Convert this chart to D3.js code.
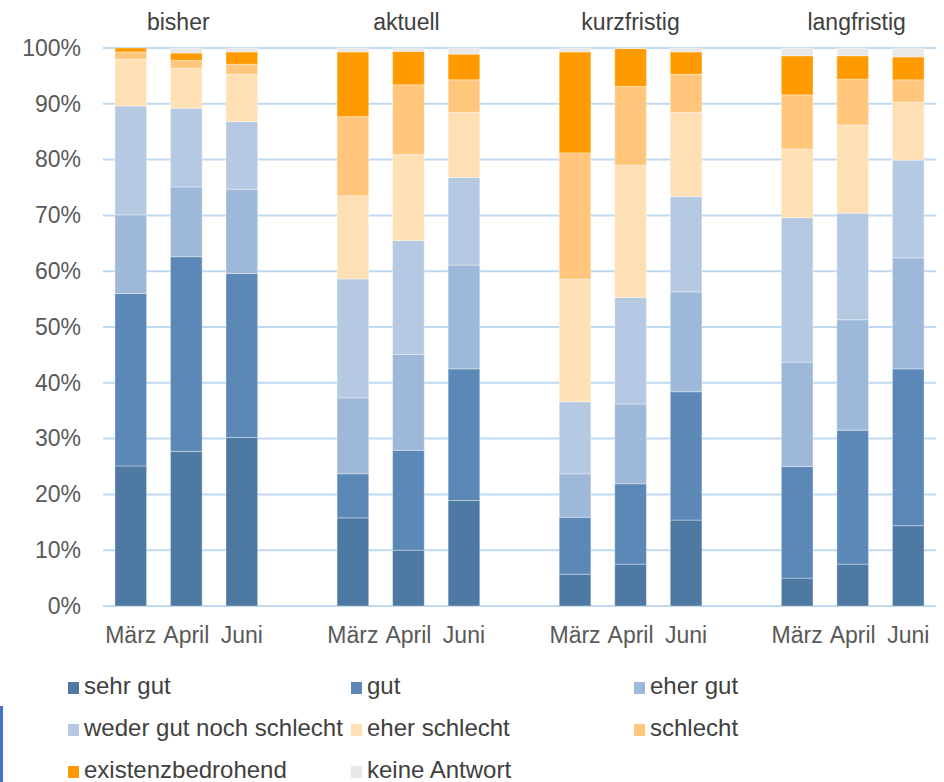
<!DOCTYPE html>
<html lang="de">
<head>
<meta charset="utf-8">
<script src="https://cdn.jsdelivr.net/npm/d3@7"></script>
<style>
  html, body { margin: 0; padding: 0; background: #fff; }
  svg { display: block; font-family: "Liberation Sans", Arial, sans-serif; }
</style>
</head>
<body>
<svg id="chart" width="944" height="782"></svg>
<script>
// Zeiträume (Gruppen) und Befragungsmonate
const periods = ["bisher", "aktuell", "kurzfristig", "langfristig"];
const months = ["März", "April", "Juni"];

// Antwortkategorien in Stapelreihenfolge (unten nach oben)
const seriesNames = ["sehr gut", "gut", "eher gut", "weder gut noch schlecht",
  "eher schlecht", "schlecht", "existenzbedrohend", "keine Antwort"];
const seriesColors = ["#4E79A2", "#5B88B6", "#9EB8D9", "#B6C9E2",
  "#FFE0B5", "#FFC67C", "#FF9A00", "#E8E8E8"];

// Anteile in % je Balken: bisher März/April/Juni, aktuell ..., kurzfristig ..., langfristig ...
const sehrGut      = [25.1, 27.7, 30.2, 15.8, 10.0, 18.9,  5.7,  7.5, 15.4,  5.0,  7.5, 14.4];
const gut          = [30.9, 34.9, 29.4,  7.9, 17.9, 23.6, 10.2, 14.4, 23.0, 20.0, 24.0, 28.1];
const eherGut      = [14.1, 12.5, 15.1, 13.6, 17.2, 18.6,  7.8, 14.3, 17.9, 18.7, 19.8, 19.9];
const weder        = [19.5, 14.1, 12.1, 21.3, 20.4, 15.7, 12.9, 19.1, 17.1, 25.9, 19.1, 17.5];
const eherSchlecht = [ 8.4,  7.2,  8.5, 14.9, 15.4, 11.7, 22.0, 23.7, 15.1, 12.3, 15.8, 10.4];
const schlecht     = [ 1.3,  1.4,  1.8, 14.2, 12.5,  5.8, 22.6, 14.1,  6.8,  9.7,  8.2,  4.0];
const existenz     = [ 0.7,  1.3,  2.2, 11.6,  6.0,  4.6, 18.1,  6.8,  4.0,  7.0,  4.2,  4.1];
const keineAntwort = [ 0.0,  0.9,  0.7,  0.7,  0.6,  1.1,  0.7,  0.1,  0.7,  1.4,  1.4,  1.6];

// Achsenbeschriftung
const yTicks = [0, 10, 20, 30, 40, 50, 60, 70, 80, 90, 100];

const seriesValues = [sehrGut, gut, eherGut, weder, eherSchlecht, schlecht, existenz, keineAntwort];

// Tabelle: eine Zeile je Balken
const rows = [];
periods.forEach((p, gi) => {
  months.forEach((m, mi) => {
    const row = { key: p + "|" + m, period: p, month: m };
    seriesNames.forEach((s, si) => { row[s] = seriesValues[si][gi * months.length + mi]; });
    rows.push(row);
  });
});

// Bandbreite mit je einem leeren Platz zwischen den Gruppen
const slots = [];
periods.forEach((p, gi) => {
  months.forEach(m => slots.push(p + "|" + m));
  if (gi < periods.length - 1) slots.push("gap" + gi);
});

const svg = d3.select("#chart");
const plotLeft = 103, plotRight = 936, plotTop = 48, plotBottom = 606;

const x = d3.scaleBand().domain(slots).range([plotLeft, plotRight])
  .paddingInner(0.43).paddingOuter(0.215);
const y = d3.scaleLinear().domain([0, 100]).range([plotBottom, plotTop]);

// Gitterlinien
svg.append("g")
  .selectAll("line")
  .data(yTicks)
  .join("line")
  .attr("x1", plotLeft).attr("x2", plotRight)
  .attr("y1", d => y(d)).attr("y2", d => y(d))
  .attr("stroke", "#BFD9F1")
  .attr("stroke-width", 2);

// Y-Achse
const yAxis = svg.append("g")
  .attr("transform", `translate(${plotLeft},0)`)
  .call(d3.axisLeft(y).tickValues(yTicks).tickFormat(d => d + "%").tickSize(0).tickPadding(22));
yAxis.select(".domain").remove();
yAxis.selectAll("text")
  .attr("fill", "#595959")
  .attr("font-size", 23)
  .attr("font-family", "\"Liberation Sans\", Arial, sans-serif");

// Gestapelte Balken
const stack = d3.stack().keys(seriesNames);
const layers = stack(rows);

svg.append("g")
  .selectAll("g")
  .data(layers)
  .join("g")
  .attr("fill", (d, i) => seriesColors[i])
  .selectAll("rect")
  .data(d => d)
  .join("rect")
  .attr("x", d => x(d.data.key))
  .attr("width", x.bandwidth())
  .attr("y", d => y(d[1]))
  .attr("height", d => Math.max(0, y(d[0]) - y(d[1])))
  .attr("stroke", "#ffffff")
  .attr("stroke-opacity", 0.35)
  .attr("stroke-width", 1);

// Monatsbeschriftung
const xAxis = svg.append("g")
  .attr("transform", `translate(0,${plotBottom})`)
  .call(d3.axisBottom(x).tickValues(rows.map(r => r.key))
    .tickFormat(k => k.split("|")[1]).tickSize(0).tickPadding(21));
xAxis.select(".domain").remove();
xAxis.selectAll("text")
  .attr("fill", "#595959")
  .attr("font-size", 23)
  .attr("font-family", "\"Liberation Sans\", Arial, sans-serif");

// Gruppentitel über dem mittleren Balken (Textfelder leicht versetzt)
const titleShift = [-8, -2, 0, 4];
svg.append("g")
  .selectAll("text")
  .data(periods)
  .join("text")
  .attr("x", (p, i) => x(p + "|" + months[1]) + x.bandwidth() / 2 + titleShift[i])
  .attr("y", 30)
  .attr("text-anchor", "middle")
  .attr("fill", "#404040")
  .attr("font-size", 23)
  .text(p => p);

// Legende
const legendCols = [68, 351, 634];
const legendRows = [694, 736, 778];
const legend = svg.append("g")
  .selectAll("g")
  .data(seriesNames)
  .join("g")
  .attr("transform", (d, i) => `translate(${legendCols[i % 3]},${legendRows[Math.floor(i / 3)]})`);
legend.append("rect")
  .attr("x", 0).attr("y", -12)
  .attr("width", 11).attr("height", 12)
  .attr("fill", (d, i) => seriesColors[i]);
legend.append("text")
  .attr("x", 16).attr("y", 0)
  .attr("fill", "#404040")
  .attr("font-size", 24)
  .text(d => d);

// Randlinie links unten
svg.append("line")
  .attr("x1", 1.5).attr("x2", 1.5)
  .attr("y1", 706).attr("y2", 782)
  .attr("stroke", "#4472C4")
  .attr("stroke-width", 3);
</script>
</body>
</html>
